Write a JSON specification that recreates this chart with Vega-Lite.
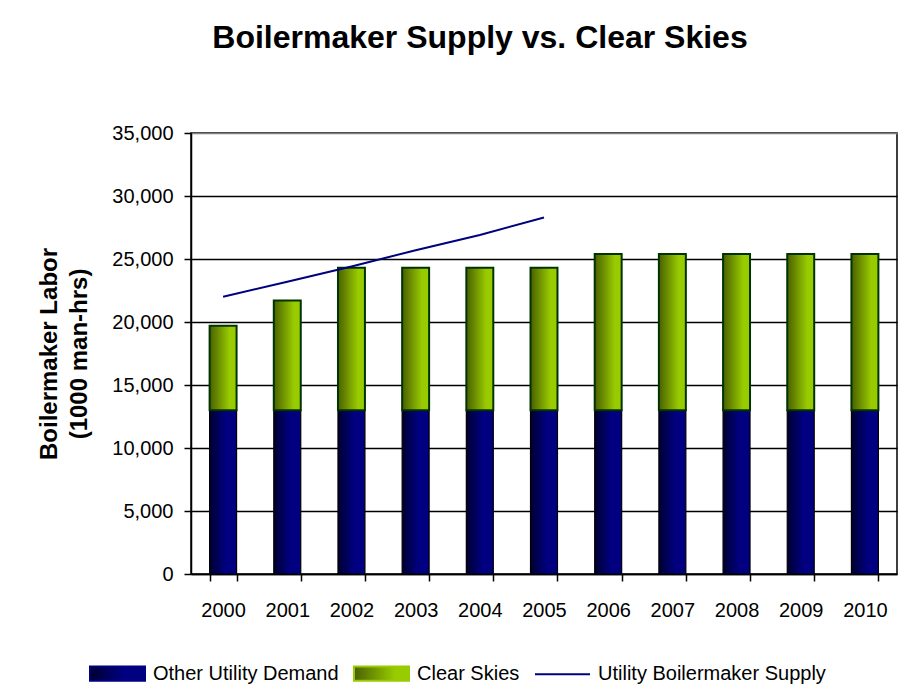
{
  "$schema": "https://vega.github.io/schema/vega-lite/v6.json",
  "autosize": "none",
  "width": 706,
  "height": 441,
  "padding": {"left": 191, "top": 133, "right": 7, "bottom": 118},
  "background": "white",
  "config": {
    "font": "Liberation Sans",
    "view": {"stroke": "#000000", "strokeWidth": 1.5}
  },
  "title": {
    "text": "Boilermaker Supply vs. Clear Skies",
    "font": "Liberation Sans",
    "fontSize": 32,
    "fontWeight": "bold",
    "color": "#000000",
    "anchor": "middle",
    "dx": -64,
    "offset": 68
  },
  "datasets": {
    "bars": [
      {"year": "2000", "series": "Other Utility Demand", "ord": 0, "value": 13000},
      {"year": "2000", "series": "Clear Skies", "ord": 1, "value": 6700},
      {"year": "2001", "series": "Other Utility Demand", "ord": 0, "value": 13000},
      {"year": "2001", "series": "Clear Skies", "ord": 1, "value": 8700},
      {"year": "2002", "series": "Other Utility Demand", "ord": 0, "value": 13000},
      {"year": "2002", "series": "Clear Skies", "ord": 1, "value": 11300},
      {"year": "2003", "series": "Other Utility Demand", "ord": 0, "value": 13000},
      {"year": "2003", "series": "Clear Skies", "ord": 1, "value": 11300},
      {"year": "2004", "series": "Other Utility Demand", "ord": 0, "value": 13000},
      {"year": "2004", "series": "Clear Skies", "ord": 1, "value": 11300},
      {"year": "2005", "series": "Other Utility Demand", "ord": 0, "value": 13000},
      {"year": "2005", "series": "Clear Skies", "ord": 1, "value": 11300},
      {"year": "2006", "series": "Other Utility Demand", "ord": 0, "value": 13000},
      {"year": "2006", "series": "Clear Skies", "ord": 1, "value": 12400},
      {"year": "2007", "series": "Other Utility Demand", "ord": 0, "value": 13000},
      {"year": "2007", "series": "Clear Skies", "ord": 1, "value": 12400},
      {"year": "2008", "series": "Other Utility Demand", "ord": 0, "value": 13000},
      {"year": "2008", "series": "Clear Skies", "ord": 1, "value": 12400},
      {"year": "2009", "series": "Other Utility Demand", "ord": 0, "value": 13000},
      {"year": "2009", "series": "Clear Skies", "ord": 1, "value": 12400},
      {"year": "2010", "series": "Other Utility Demand", "ord": 0, "value": 13000},
      {"year": "2010", "series": "Clear Skies", "ord": 1, "value": 12400}
    ],
    "supply": [
      {"year": "2000", "series": "Utility Boilermaker Supply", "value": 22000},
      {"year": "2001", "series": "Utility Boilermaker Supply", "value": 23200},
      {"year": "2002", "series": "Utility Boilermaker Supply", "value": 24400},
      {"year": "2003", "series": "Utility Boilermaker Supply", "value": 25700},
      {"year": "2004", "series": "Utility Boilermaker Supply", "value": 26900},
      {"year": "2005", "series": "Utility Boilermaker Supply", "value": 28300}
    ]
  },
  "encoding": {
    "x": {
      "field": "year",
      "type": "ordinal",
      "scale": {
        "domain": ["2000","2001","2002","2003","2004","2005","2006","2007","2008","2009","2010"],
        "paddingInner": 0.58,
        "paddingOuter": 0.29
      },
      "axis": {
        "title": null,
        "labelAngle": 0,
        "labelFont": "Liberation Sans",
        "labelFontSize": 20,
        "labelColor": "#000000",
        "labelPadding": 19,
        "tickBand": "extent",
        "tickSize": 7,
        "tickColor": "#000000",
        "tickWidth": 1.5,
        "domainColor": "#000000",
        "domainWidth": 1.5,
        "grid": false
      }
    }
  },
  "layer": [
    {
      "data": {"name": "bars"},
      "mark": {"type": "bar"},
      "encoding": {
        "y": {
          "field": "value",
          "type": "quantitative",
          "stack": "zero",
          "scale": {"domain": [0, 35000], "nice": false},
          "axis": {
            "values": [0, 5000, 10000, 15000, 20000, 25000, 30000, 35000],
            "format": ",d",
            "title": ["Boilermaker Labor", "(1000 man-hrs)"],
            "titleFont": "Liberation Sans",
            "titleFontSize": 24,
            "titleFontWeight": "bold",
            "titleColor": "#000000",
            "titleLineHeight": 30,
            "titlePadding": 20,
            "labelFont": "Liberation Sans",
            "labelFontSize": 20,
            "labelColor": "#000000",
            "labelPadding": 11,
            "tickSize": 7,
            "tickColor": "#000000",
            "tickWidth": 1.5,
            "domainColor": "#000000",
            "domainWidth": 1.5,
            "grid": true,
            "gridColor": {"condition": {"test": "datum.value == 35000", "value": "#808080"}, "value": "#000000"},
            "gridWidth": 1.5,
            "gridOpacity": 1
          }
        },
        "detail": {"field": "series"},
        "order": {"field": "ord", "type": "quantitative"},
        "fill": {
          "condition": {
            "test": "datum.series === 'Clear Skies'",
            "value": {"gradient": "linear", "x1": 0, "x2": 1, "y1": 0, "y2": 0,
              "stops": [{"offset": 0, "color": "#4a6000"}, {"offset": 0.75, "color": "#99cc00"}, {"offset": 1, "color": "#99cc00"}]}
          },
          "value": {"gradient": "linear", "x1": 0, "x2": 1, "y1": 0, "y2": 0,
            "stops": [{"offset": 0, "color": "#000030"}, {"offset": 0.6, "color": "#000080"}, {"offset": 1, "color": "#000080"}]}
        },
        "stroke": {
          "condition": {"test": "datum.series === 'Clear Skies'", "value": "#003300"},
          "value": "#000000"
        },
        "strokeWidth": {
          "condition": {"test": "datum.series === 'Clear Skies'", "value": 2},
          "value": 1.2
        }
      }
    },
    {
      "data": {"name": "supply"},
      "mark": {"type": "line", "strokeWidth": 2},
      "encoding": {
        "y": {"field": "value", "type": "quantitative"},
        "color": {
          "field": "series",
          "type": "nominal",
          "scale": {
            "domain": ["Other Utility Demand", "Clear Skies", "Utility Boilermaker Supply"],
            "range": ["#000080", "#99cc00", "#000080"]
          },
          "legend": {
            "title": null,
            "orient": "none",
            "direction": "horizontal",
            "legendX": -102,
            "legendY": 512,
            "padding": 0,
            "columnPadding": 11,
            "labelOffset": 7,
            "labelFont": "Liberation Sans",
            "labelFontSize": 20,
            "labelColor": "#000000",
            "labelLimit": 400,
            "symbolSize": 3025,
            "symbolOpacity": 1,
            "encode": {
              "symbols": {
                "update": {
                  "shape": [
                    {"test": "datum.label === 'Utility Boilermaker Supply'", "value": "M-1,0L1,0"},
                    {"value": "M-1,-0.26L1,-0.26L1,0.26L-1,0.26Z"}
                  ],
                  "fill": [
                    {"test": "datum.label === 'Clear Skies'", "value": {"gradient": "linear", "x1": 0, "x2": 1, "y1": 0, "y2": 0,
                      "stops": [{"offset": 0, "color": "#4a6000"}, {"offset": 0.75, "color": "#99cc00"}, {"offset": 1, "color": "#99cc00"}]}},
                    {"test": "datum.label === 'Other Utility Demand'", "value": {"gradient": "linear", "x1": 0, "x2": 1, "y1": 0, "y2": 0,
                      "stops": [{"offset": 0, "color": "#000030"}, {"offset": 0.6, "color": "#000080"}, {"offset": 1, "color": "#000080"}]}},
                    {"value": "transparent"}
                  ],
                  "stroke": [
                    {"test": "datum.label === 'Clear Skies'", "value": "#003300"},
                    {"test": "datum.label === 'Other Utility Demand'", "value": "#000000"},
                    {"value": "#000080"}
                  ],
                  "strokeWidth": {"value": 2},
                  "opacity": {"value": 1}
                }
              }
            }
          }
        }
      }
    }
  ]
}
